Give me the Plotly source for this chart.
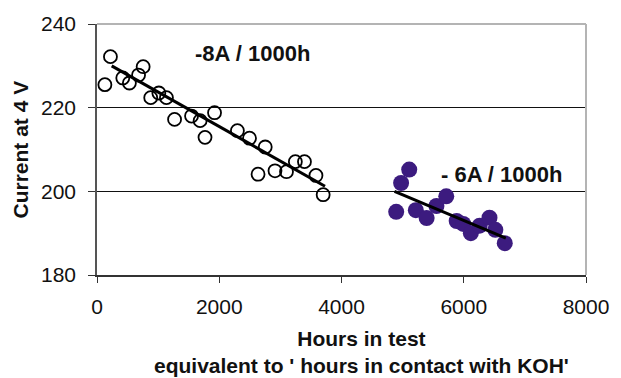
import plotly.graph_objects as go

# ---- data ----
early_hours = [129, 220, 422, 530, 680, 755, 879, 1012, 1136, 1269, 1547, 1687,
               1767, 1923, 2297, 2495, 2635, 2752, 2912, 3100, 3245, 3394, 3582, 3700]
early_current = [225.5, 232.2, 227.1, 225.9, 227.8, 229.8, 222.4, 223.5, 222.4, 217.2,
                 218.0, 216.9, 212.9, 218.8, 214.5, 212.7, 204.1, 210.6, 204.9, 204.7,
                 207.1, 207.1, 203.8, 199.2]

late_hours = [4895, 4975, 5108, 5216, 5393, 5553, 5714, 5884, 5992, 6116, 6260,
              6421, 6517, 6671]
late_current = [195.1, 202.0, 205.2, 195.5, 193.6, 196.5, 198.8, 192.9, 192.2,
                190.0, 191.8, 193.7, 190.8, 187.6]

trend_early_hours = [240, 3730]
trend_early_current = [230.0, 201.2]
trend_late_hours = [4867, 6688]
trend_late_current = [200.0, 188.8]

x_ticks = [0, 2000, 4000, 6000, 8000]
y_ticks = [180, 200, 220, 240]

label_early = "-8A / 1000h"
label_late = "- 6A / 1000h"
x_title_1 = "Hours in test"
x_title_2 = "equivalent to ' hours in contact with KOH'"
y_title = "Current at 4 V"

FONT = "Liberation Sans, Arial, sans-serif"
PURPLE = "#3c1b7f"
BOLD_SIZE = 22

fig = go.Figure()

fig.add_trace(go.Scatter(
    x=early_hours, y=early_current, mode="markers",
    marker=dict(symbol="circle-open", size=13, color="black", line=dict(width=1.8, color="black")),
    showlegend=False, hoverinfo="skip"))
fig.add_trace(go.Scatter(
    x=late_hours, y=late_current, mode="markers",
    marker=dict(symbol="circle", size=16, color=PURPLE, line=dict(width=0)),
    showlegend=False, hoverinfo="skip"))
fig.add_trace(go.Scatter(
    x=trend_early_hours, y=trend_early_current, mode="lines",
    line=dict(color="black", width=3), showlegend=False, hoverinfo="skip"))
fig.add_trace(go.Scatter(
    x=trend_late_hours, y=trend_late_current, mode="lines",
    line=dict(color="black", width=3), showlegend=False, hoverinfo="skip"))

fig.update_layout(
    width=621, height=378,
    margin=dict(l=97, r=26, t=20, b=103),
    paper_bgcolor="white", plot_bgcolor="white",
    font=dict(family=FONT, size=21, color="#111111"),
    showlegend=False,
)

fig.update_xaxes(
    range=[0, 8000], tickvals=x_ticks, ticktext=[str(v) for v in x_ticks],
    showgrid=False, zeroline=False,
    showline=True, linecolor="#333333", linewidth=1.5,
    ticks="outside", ticklen=6, tickwidth=1.2, tickcolor="#333333",
    tickfont=dict(family=FONT, size=21, color="#111111"),
    ticklabelstandoff=6,
)
fig.update_yaxes(
    range=[180, 240], tickvals=y_ticks, ticktext=[str(v) for v in y_ticks],
    showgrid=True, gridcolor="#111111", gridwidth=1,
    zeroline=False,
    showline=True, linecolor="#555555", linewidth=1.5,
    ticks="outside", ticklen=7, tickwidth=1.2, tickcolor="#333333",
    tickfont=dict(family=FONT, size=21, color="#111111"),
    ticklabelstandoff=8,
)

# grey frame on top and right
fig.add_shape(type="line", xref="x domain", yref="y domain", x0=0, x1=1, y0=1, y1=1,
              line=dict(color="#b4b4b4", width=2), layer="above")
fig.add_shape(type="line", xref="x domain", yref="y domain", x0=1, x1=1, y0=0, y1=1,
              line=dict(color="#b4b4b4", width=2), layer="above")

fig.add_annotation(x=2538, y=233.0, xref="x", yref="y", text=f"<b>{label_early}</b>",
                   showarrow=False, font=dict(family=FONT, size=BOLD_SIZE, color="#111111"))
fig.add_annotation(x=6619, y=204.0, xref="x", yref="y", text=f"<b>{label_late}</b>",
                   showarrow=False, font=dict(family=FONT, size=BOLD_SIZE, color="#111111"))

# two-line x-axis title in a single text block
fig.add_annotation(x=0.54, y=0, xref="paper", yref="paper", yanchor="bottom",
                   yshift=-103, text=f"<b>{x_title_1}<br>{x_title_2}</b>",
                   showarrow=False, borderpad=0, align="center",
                   font=dict(family=FONT, size=21, color="#111111"))
fig.add_annotation(x=0, y=0.5, xref="paper", yref="paper", xanchor="center",
                   xshift=-77, text=f"<b>{y_title}</b>", textangle=-90, showarrow=False,
                   font=dict(family=FONT, size=21, color="#111111"))

fig.write_html("out.html", config={"displayModeBar": False},
               post_script="document.body.style.margin='0';")
